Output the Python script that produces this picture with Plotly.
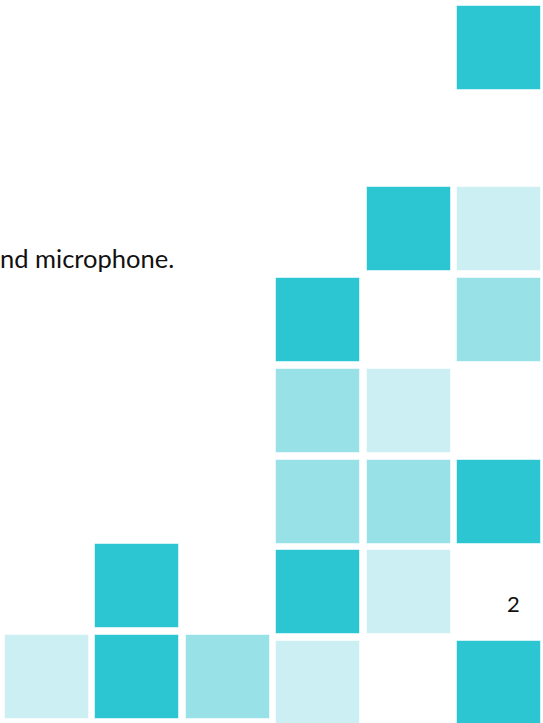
import plotly.graph_objects as go

# grid cells: column index, row index, shade level (0=dark, 1=mid, 2=light)
cols = [5, 4, 5, 3, 5, 3, 4, 3, 4, 5, 1, 3, 4, 0, 1, 2, 3, 5]
rows = [0, 2, 2, 3, 3, 4, 4, 5, 5, 5, 6, 6, 6, 7, 7, 7, 7, 7]
shades = [0, 0, 2, 0, 1, 1, 2, 1, 1, 0, 0, 0, 2, 2, 0, 1, 2, 0]
shade_colors = ["#2CC5D2", "#97E1E7", "#CBEFF2"]
caption = "nd microphone."
page_number = "2"

W, H = 543, 723
STEP_X, STEP_Y, SIZE = 90.4, 90.7, 84
X0, Y0 = 5, 6
LEFT_GROUP_SHIFT = -6

xc, top, col_list = [], [], []
for c, r, s in zip(cols, rows, shades):
    y = Y0 + r * STEP_Y + (LEFT_GROUP_SHIFT if c <= 2 else 0)
    xc.append(X0 + c * STEP_X + SIZE / 2)
    top.append(y)
    col_list.append(shade_colors[s])

fig = go.Figure(go.Bar(
    x=xc, y=[SIZE] * len(xc), base=top, width=SIZE,
    marker=dict(color=col_list, line=dict(color="rgba(255,255,255,0.55)", width=1)),
    hoverinfo="skip",
))
fig.add_annotation(x=0, y=258, xref="x", yref="y", text=caption, showarrow=False,
                   xanchor="left", yanchor="middle", xshift=-2,
                   font=dict(family="Lato", size=25.5, color="#111111"))
fig.add_annotation(x=513.5, y=603, xref="x", yref="y", text=page_number, showarrow=False,
                   xanchor="center", yanchor="middle",
                   font=dict(family="Lato", size=22, color="#111111"))
fig.update_layout(
    width=W, height=H, margin=dict(l=0, r=0, t=0, b=0),
    paper_bgcolor="white", plot_bgcolor="white", showlegend=False,
    xaxis=dict(range=[0, W], visible=False, fixedrange=True),
    yaxis=dict(range=[H, 0], visible=False, fixedrange=True),
    bargap=0,
)
fig.write_html("out.html", config={"displayModeBar": False},
               post_script="document.body.style.margin='0';document.body.style.overflow='hidden';")
